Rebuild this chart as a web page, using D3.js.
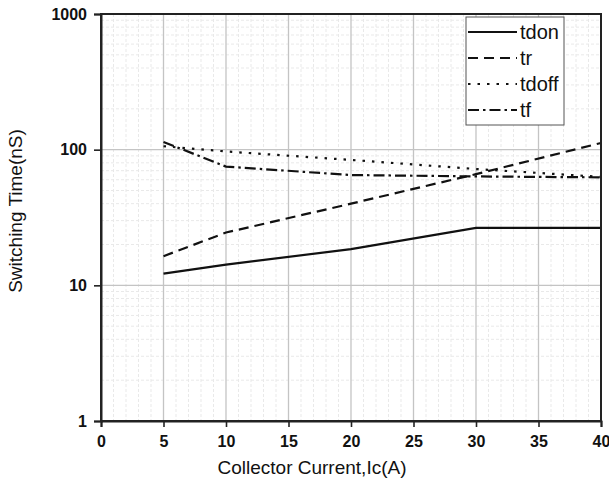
<!DOCTYPE html>
<html>
<head>
<meta charset="utf-8">
<script src="https://cdn.jsdelivr.net/npm/d3@7"></script>
<style>
  html, body { margin: 0; padding: 0; background: #fff; }
  svg { display: block; font-family: "Liberation Sans", Arial, sans-serif; }
</style>
</head>
<body>
<svg id="chart" width="609" height="483"></svg>
<script>
// ---- data ----
const currents = [5, 10, 20, 30, 40];
const tdon  = [12.2, 14.2, 18.5, 26.5, 26.5];
const tr    = [16.4, 24.5, 40, 66, 112];
const tdoff = [106, 97, 84, 72, 63];
const tf    = [114, 75, 65, 63.5, 62.5];
const seriesNames = ["tdon", "tr", "tdoff", "tf"];
const xTicks = [0, 5, 10, 15, 20, 25, 30, 35, 40];
const yTicks = [1, 10, 100, 1000];
const xTitle = "Collector Current,Ic(A)";
const yTitle = "Switching Time(nS)";

// ---- layout ----
const svg = d3.select("#chart");
const L = 101, R = 601, T = 14, B = 421;
const x = d3.scaleLinear().domain([0, 40]).range([L, R]);
const y = d3.scaleLog().domain([1, 1000]).range([B, T]);

const dashes = {
  tdon: null,
  tr: "10,6",
  tdoff: "2.5,7",
  tf: "11,4,2.5,4"
};
const seriesData = { tdon, tr, tdoff, tf };

// minor grid
const minorX = d3.range(0, 41, 1).filter(v => v % 5 !== 0);
const minorY = [];
[1, 10, 100].forEach(d => { for (let k = 2; k <= 9; k++) minorY.push(d * k); });

const grid = svg.append("g");
grid.selectAll(".mx").data(minorX).enter().append("line")
  .attr("x1", d => x(d)).attr("x2", d => x(d)).attr("y1", T).attr("y2", B)
  .attr("stroke", "#e9e9e9").attr("stroke-width", 1).attr("stroke-dasharray", "3,2");
grid.selectAll(".my").data(minorY).enter().append("line")
  .attr("x1", L).attr("x2", R).attr("y1", d => y(d)).attr("y2", d => y(d))
  .attr("stroke", "#e9e9e9").attr("stroke-width", 1).attr("stroke-dasharray", "3,2");
// major grid
grid.selectAll(".Mx").data(xTicks).enter().append("line")
  .attr("x1", d => x(d)).attr("x2", d => x(d)).attr("y1", T).attr("y2", B)
  .attr("stroke", "#c4c4c4").attr("stroke-width", 1.3);
grid.selectAll(".My").data(yTicks).enter().append("line")
  .attr("x1", L).attr("x2", R).attr("y1", d => y(d)).attr("y2", d => y(d))
  .attr("stroke", "#c4c4c4").attr("stroke-width", 1.3);

// series
const line = d3.line().x(d => x(d[0])).y(d => y(d[1]));
seriesNames.forEach(name => {
  const pts = currents.map((c, i) => [c, seriesData[name][i]]);
  const p = svg.append("path").datum(pts)
    .attr("d", line).attr("fill", "none")
    .attr("stroke", "#111").attr("stroke-width", 2.2);
  if (dashes[name]) p.attr("stroke-dasharray", dashes[name]);
});

// frame
svg.append("rect").attr("x", L).attr("y", T).attr("width", R - L).attr("height", B - T)
  .attr("fill", "none").attr("stroke", "#222").attr("stroke-width", 2);

// axes
const xAxis = svg.append("g").attr("transform", `translate(0,${B})`)
  .call(d3.axisBottom(x).tickValues(xTicks).tickFormat(d3.format("d")).tickSize(6).tickPadding(9));
const yAxis = svg.append("g").attr("transform", `translate(${L},0)`)
  .call(d3.axisLeft(y).tickValues(yTicks).tickFormat(d3.format("d")).tickSize(7).tickPadding(7));
[xAxis, yAxis].forEach(a => {
  a.select(".domain").attr("stroke", "#222").attr("stroke-width", 2);
  a.selectAll(".tick line").attr("stroke", "#222").attr("stroke-width", 1.6);
  a.selectAll(".tick text").attr("fill", "#111")
    .style("font-family", '"Liberation Sans", Arial, sans-serif')
    .style("font-size", "16px").style("font-weight", "bold");
});

// titles
svg.append("text").attr("x", 312).attr("y", 474)
  .attr("text-anchor", "middle").attr("font-size", 19).attr("fill", "#111").text(xTitle);
svg.append("text").attr("transform", "translate(22,211) rotate(-90)")
  .attr("text-anchor", "middle").attr("font-size", 19).attr("fill", "#111").text(yTitle);

// legend
const lg = svg.append("g");
lg.append("rect").attr("x", 466).attr("y", 17).attr("width", 98).attr("height", 108)
  .attr("fill", "#fff").attr("stroke", "#555").attr("stroke-width", 1);
seriesNames.forEach((name, i) => {
  const cy = 32 + i * 26;
  const l = lg.append("line").attr("x1", 468).attr("x2", 517).attr("y1", cy).attr("y2", cy)
    .attr("stroke", "#111").attr("stroke-width", 2.2);
  if (dashes[name]) l.attr("stroke-dasharray", dashes[name]);
  lg.append("text").attr("x", 520).attr("y", cy + 7).attr("font-size", 20)
    .attr("fill", "#111").text(name);
});
</script>
</body>
</html>
